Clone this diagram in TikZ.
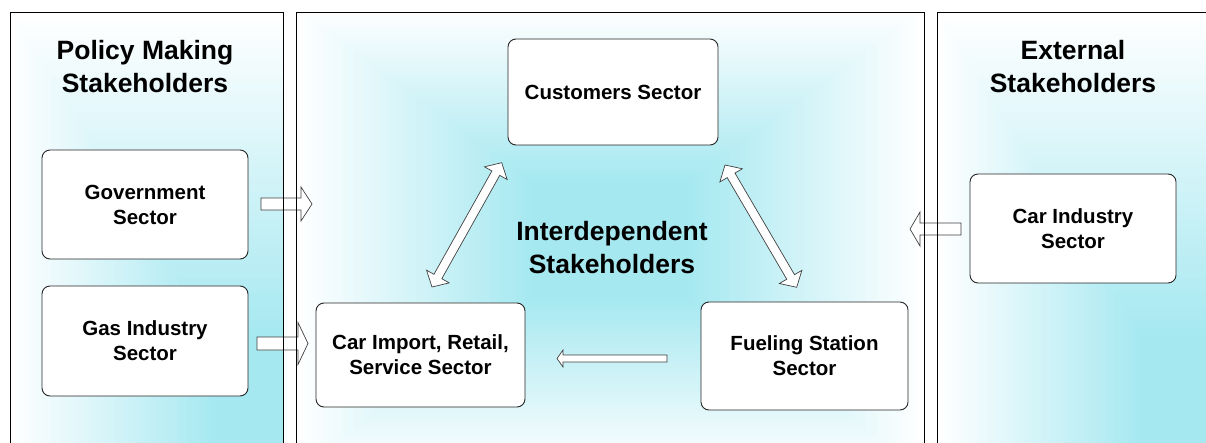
\documentclass[tikz,border=0pt]{standalone}
\usepackage{fontspec}
\setmainfont{Liberation Sans}
\usetikzlibrary{calc}
\definecolor{cy}{RGB}{165,232,240}
\tikzset{
  sector/.style={draw=black!85, line width=0.9pt, fill=white, rounded corners=8pt,
    align=center, font=\fontsize{20.5}{25}\selectfont\bfseries, inner sep=0pt},
  heading/.style={align=center, font=\fontsize{26.5}{33}\selectfont\bfseries, inner sep=0pt},
  blockarrow/.style={draw=black!75, fill=white, line width=0.7pt, line join=miter},
  panelline/.style={draw=black, line width=0.9pt}
}
\newcommand\mysinglearrow[5]{%
  \coordinate (sa-c) at ($(#2)!#5!(#1)$);
  \draw[blockarrow] ($(#1)!#3!90:(#2)$) -- ($(sa-c)!#3!90:(#2)$) -- ($(sa-c)!#4!90:(#2)$)
    -- (#2) -- ($(sa-c)!#4!-90:(#2)$) -- ($(sa-c)!#3!-90:(#2)$) -- ($(#1)!#3!-90:(#2)$) -- cycle;
}
\newcommand\mydoublearrow[5]{%
  \coordinate (da-c1) at ($(#1)!#5!(#2)$);
  \coordinate (da-c2) at ($(#2)!#5!(#1)$);
  \draw[blockarrow] (#1) -- ($(da-c1)!#4!90:(#2)$) -- ($(da-c1)!#3!90:(#2)$)
    -- ($(da-c2)!#3!-90:(#1)$) -- ($(da-c2)!#4!-90:(#1)$) -- (#2)
    -- ($(da-c2)!#4!90:(#1)$) -- ($(da-c2)!#3!90:(#1)$)
    -- ($(da-c1)!#3!-90:(#2)$) -- ($(da-c1)!#4!-90:(#2)$) -- cycle;
}
\begin{document}
\begin{tikzpicture}[x=1pt,y=-1pt]
\useasboundingbox (0,0) rectangle (1206,443);
\clip (0,0) rectangle (1206,443);
% left panel gradient (from bottom-right corner)
\begin{scope}
  \clip (10,12.5) rectangle (283,450);
  \foreach \i in {0,...,59} {
    \pgfmathsetmacro\tt{1-\i/60}
    \pgfmathsetmacro\cc{min(100,100*(1-\tt)/0.75)}
    \fill[cy!\cc!white] ({283-\tt*273},{443-\tt*431}) rectangle (283,450);
  }
\end{scope}
% middle panel gradient (from centre)
\begin{scope}
  \clip (296,12.5) rectangle (924,450);
  \foreach \i in {0,...,59} {
    \pgfmathsetmacro\tt{1-\i/60}
    \pgfmathsetmacro\cc{min(100,100*(1-\tt)/0.75)}
    \fill[cy!\cc!white] ({610-\tt*314},{240-\tt*232}) rectangle ({610+\tt*314},{240+\tt*232});
  }
\end{scope}
% right panel gradient (from bottom-right corner)
\begin{scope}
  \clip (937,12.5) rectangle (1210,450);
  \foreach \i in {0,...,59} {
    \pgfmathsetmacro\tt{1-\i/60}
    \pgfmathsetmacro\cc{min(100,100*(1-\tt)/0.75)}
    \fill[cy!\cc!white] ({1209-\tt*272},{443-\tt*431}) rectangle (1210,450);
  }
\end{scope}

% headings
\node[heading] (tl) at (145,66.5) {Policy Making\\Stakeholders};
\node[heading] (tr) at (1073,66.5) {External\\Stakeholders};
\node[heading] (tm) at (612,248) {Interdependent\\Stakeholders};

% sector boxes
\node[sector, minimum width=206pt, minimum height=109pt] (gov) at (145,204.5) {Government\\Sector};
\node[sector, minimum width=206pt, minimum height=110pt] (gas) at (145,341) {Gas Industry\\Sector};
\node[sector, minimum width=210pt, minimum height=106pt] (cust) at (613,92) {Customers Sector};
\node[sector, minimum width=209pt, minimum height=104pt] (imp) at (420.5,355) {Car Import, Retail,\\Service Sector};
\node[sector, minimum width=207pt, minimum height=108pt] (fuel) at (804.5,356) {Fueling Station\\Sector};
\node[sector, minimum width=206pt, minimum height=109pt] (carind) at (1073,228.5) {Car Industry\\Sector};

% block arrows
\coordinate (govA) at (261,204);   \coordinate (govB) at (312,204);
\coordinate (gasA) at (257,343.5); \coordinate (gasB) at (308,343.5);
\coordinate (ciA) at (961,229);    \coordinate (ciB) at (910,229);
\coordinate (fuA) at (667,358.5);  \coordinate (fuB) at (557,358.5);
\coordinate (dlA) at (432,287);    \coordinate (dlB) at (501.7,162.7);
\coordinate (drA) at (725,165);    \coordinate (drB) at (796.7,287.3);
\mysinglearrow{govA}{govB}{6pt}{17pt}{11pt}
\mysinglearrow{gasA}{gasB}{6.5pt}{21pt}{10pt}
\mysinglearrow{ciA}{ciB}{6pt}{17pt}{10pt}
\mysinglearrow{fuA}{fuB}{3.5pt}{8.5pt}{6pt}
\mydoublearrow{dlA}{dlB}{4.5pt}{13pt}{12pt}
\mydoublearrow{drA}{drB}{4.5pt}{13pt}{12pt}

% panel borders
\draw[panelline] (10,450) -- (10,12.5) -- (283,12.5) -- (283,450);
\draw[panelline] (296,450) -- (296,12.5) -- (924,12.5) -- (924,450);
\draw[panelline] (937,450) -- (937,12.5) -- (1210,12.5);
\end{tikzpicture}
\end{document}
